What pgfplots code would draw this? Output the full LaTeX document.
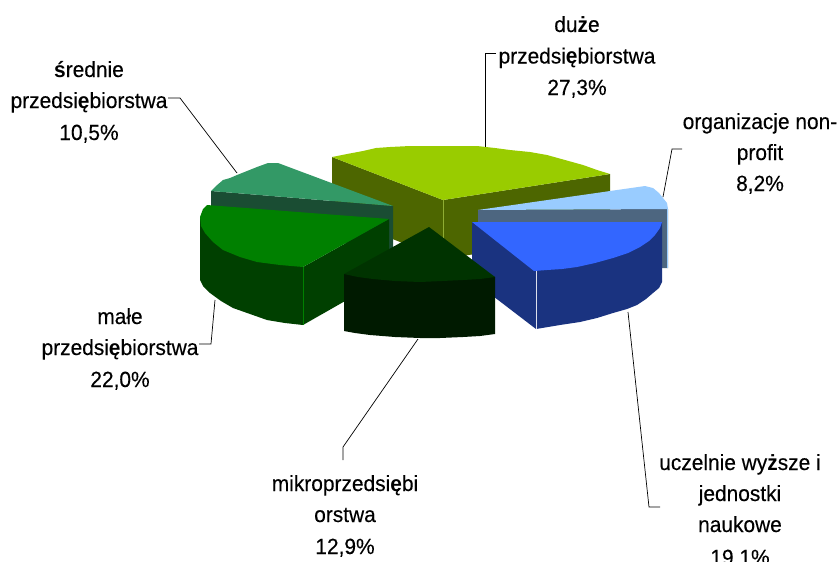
\documentclass[border=0pt]{standalone}
\usepackage{pgfplots}
\pgfplotsset{compat=1.18}
\usepackage{fontspec}
\setmainfont[FakeStretch=0.95,UprightFeatures={FakeBold=0.25}]{Liberation Sans}
\newcommand{\bb}[1]{\textbf{#1}}
\definecolor{duzeT}{HTML}{99CC00}\definecolor{duzeS}{HTML}{4D6600}
\definecolor{orgT}{HTML}{99CCFF}\definecolor{orgS}{HTML}{4D6680}
\definecolor{uczT}{HTML}{3366FF}\definecolor{uczS}{HTML}{1A3380}
\definecolor{mikT}{HTML}{003300}\definecolor{mikS}{HTML}{001A00}
\definecolor{malT}{HTML}{008000}\definecolor{malS}{HTML}{004000}
\definecolor{sreT}{HTML}{339966}\definecolor{sreS}{HTML}{1A4D33}
\newcommand{\lab}[3]{\node[anchor=base,inner sep=0pt,font=\fontsize{22}{25}\selectfont] at (axis cs:#1,#2) {#3};}
\begin{document}
\begin{tikzpicture}
\clip (0,0) rectangle (839pt,562pt);
\begin{axis}[at={(0,0)},anchor=south west,width=839pt,height=562pt,scale only axis,
  xmin=0,xmax=839,ymin=0,ymax=562,y dir=reverse,hide axis,clip=false]
% duze 27,3%
\addplot[fill=duzeS,draw=none] coordinates {(332,157)(443,200)(610,174)(610,233)(443,259)(332,215)} --cycle;
\addplot[fill=duzeT,draw=none] coordinates {(332,157)(347,154)(363,151)(376,148)(390,147)(410,146)(445,146)(477,146)(495,148)(510,150)(530,152)(547,155)(565,160)(583,165)(597,170)(610,174)(443,200)} --cycle;
\addplot[color=duzeT!60!gray,line width=0.6pt] coordinates {(443,200)(443,259)};
% organizacje 8,2%
\addplot[fill=orgS,draw=none] coordinates {(478,210)(668,209)(668,268)(478,268)} --cycle;
\addplot[fill=orgT,draw=none] coordinates {(478,210)(645,186)(653,188)(659,193)(663,198)(667,203)(668,209)} --cycle;
\addplot[color=orgT,line width=0.6pt] coordinates {(667.5,209)(667.5,268)};
% srednie 10,5%
\addplot[fill=sreS,draw=none] coordinates {(211,191)(393,206)(393,250)(211,225)} --cycle;
\addplot[fill=sreT,draw=none] coordinates {(211,191)(216,186)(223,180)(230,178)(237,175)(247,171)(257,167)(268,163)(278,163)(393,206)} --cycle;
% male 22,0%
\addplot[fill=malS,draw=none] coordinates {(200,217)(200,280)(203,286)(210,293)(221,301)(233,308)(250,314)(267,320)(285,323)(303,325)(389,276)(389,219)(303,267)} --cycle;
\addplot[fill=malT,draw=none] coordinates {(207,205)(203,209)(200,217)(201,226)(205,233)(213,242)(223,250)(240,257)(257,262)(280,265)(303,267)(389,219)} --cycle;
\addplot[color=malT,line width=0.4pt] coordinates {(303,267)(303,325)};
% uczelnie 19,1%
\addplot[fill=uczS,draw=none] coordinates {(472,222)(472,280)(536,329)(560,325)(580,322)(597,318)(613,313)(627,309)(637,305)(646,299)(653,293)(659,288)(662,282)(662,222)} --cycle;
\addplot[fill=uczT,draw=none] coordinates {(472,222)(662,222)(660,228)(655,235)(649,241)(640,247)(628,253)(613,258)(595,263)(577,267)(562,269)(547,270)(534,271)} --cycle;
\addplot[color=white!85!uczS,line width=0.7pt] coordinates {(536,271)(536,329)};
% mikro 12,9%
\addplot[fill=mikS,draw=none] coordinates {(344,274)(495,277)(495,334)(480,336)(463,337)(440,338)(420,338)(395,337)(370,335)(355,333)(344,331)} --cycle;
\addplot[fill=mikT,draw=none] coordinates {(429,227)(344,274)(358,277)(373,279)(395,281)(420,282)(442,281)(463,280)(480,279)(495,277)} --cycle;
% leaders
\addplot[black,line width=0.7pt] coordinates {(496,53)(485,53)(485,147)};
\addplot[black,line width=0.7pt] coordinates {(682,149)(672,149)(663,197)};
\addplot[black,line width=0.7pt] coordinates {(168,98)(180,98)(237,173)};
\addplot[black,line width=0.7pt] coordinates {(199,344)(211,344)(215,300)};
\addplot[black,line width=0.7pt] coordinates {(418,339)(343,447)(343,460)};
\addplot[black,line width=0.7pt] coordinates {(628,312)(649,507)(660,507)};
% labels
\lab{577}{32}{du\bb{ż}e}
\lab{577}{63.5}{przedsi\bb{ę}biorstwa}
\lab{577}{95}{27,3\%}
\lab{760}{129}{organizacje non-}
\lab{760}{160}{profit}
\lab{760}{191}{8,2\%}
\lab{89}{77}{\bb{ś}rednie}
\lab{89}{108}{przedsi\bb{ę}biorstwa}
\lab{89}{140}{10,5\%}
\lab{120}{324}{małe}
\lab{120}{355}{przedsi\bb{ę}biorstwa}
\lab{120}{387}{22,0\%}
\lab{345}{491}{mikroprzedsi\bb{ę}bi}
\lab{345}{522}{orstwa}
\lab{345}{554}{12,9\%}
\lab{740}{470}{uczelnie wy\bb{ż}sze i}
\lab{740}{501}{jednostki}
\lab{740}{532}{naukowe}
\lab{740}{565}{19,1\%}
\end{axis}
\end{tikzpicture}
\end{document}
